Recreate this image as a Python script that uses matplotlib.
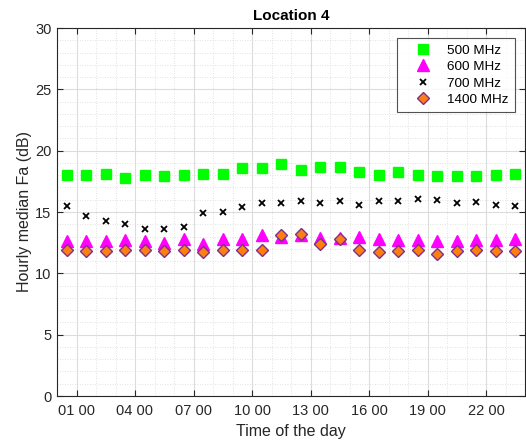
import numpy as np
import matplotlib.pyplot as plt
from matplotlib.ticker import MultipleLocator, FixedLocator

plt.rcParams['font.family'] = ['Liberation Sans', 'DejaVu Sans']

# hourly medians, one value per hour of the day (plotted at the half hour)
hours = np.arange(24) + 0.5
fa_500 = [18.0, 18.0, 18.1, 17.8, 18.0, 17.9, 18.0, 18.1, 18.1, 18.6, 18.6, 18.9,
          18.4, 18.7, 18.7, 18.3, 18.0, 18.3, 18.0, 17.9, 17.9, 17.9, 18.0, 18.1]
fa_600 = [12.6, 12.6, 12.6, 12.7, 12.6, 12.5, 12.8, 12.4, 12.8, 12.8, 13.1, 13.0,
          13.1, 12.9, 12.9, 13.0, 12.8, 12.7, 12.7, 12.6, 12.6, 12.7, 12.7, 12.8]
fa_700 = [15.5, 14.7, 14.3, 14.0, 13.6, 13.6, 13.8, 14.9, 15.0, 15.4, 15.7, 15.7,
          15.9, 15.7, 15.9, 15.6, 15.9, 15.9, 16.1, 16.0, 15.7, 15.8, 15.6, 15.5]
fa_1400 = [11.9, 11.8, 11.8, 11.9, 11.9, 11.8, 11.9, 11.7, 11.9, 11.9, 11.9, 13.1,
           13.2, 12.4, 12.8, 11.9, 11.7, 11.8, 11.9, 11.6, 11.8, 11.9, 11.8, 11.8]

tick_hours = [1, 4, 7, 10, 13, 16, 19, 22]
tick_labels = ['01 00', '04 00', '07 00', '10 00', '13 00', '16 00', '19 00', '22 00']

fig = plt.figure(figsize=(5.26, 4.46), dpi=100)
ax = fig.add_axes([57 / 526, 50 / 446, 468 / 526, 368 / 446])

ax.plot(hours, fa_500, 's', color='#00ff00', markersize=7.5, label='500 MHz')
ax.plot(hours, fa_600, '^', color='#ff00ff', markersize=8.5, label='600 MHz')
ax.plot(hours, fa_700, 'x', color='black', markersize=5, markeredgewidth=1.3,
        label='700 MHz')
ax.plot(hours, fa_1400, 'D', markerfacecolor='#ff7f0e', markeredgecolor='#7e2f8e',
        markersize=6.3, markeredgewidth=1.0, label='1400 MHz')

ax.set_xlim(0, 24)
ax.set_ylim(0, 30)
ax.xaxis.set_major_locator(FixedLocator(tick_hours))
ax.set_xticklabels(tick_labels)
ax.xaxis.set_minor_locator(MultipleLocator(1))
ax.yaxis.set_major_locator(MultipleLocator(5))
ax.yaxis.set_minor_locator(MultipleLocator(1))

ax.grid(which='major', color='#dcdcdc', linewidth=0.8)
ax.grid(which='minor', color='#d8d8d8', linestyle=(0, (1, 2)), linewidth=0.6)
ax.set_axisbelow(True)
ax.tick_params(which='both', direction='in', top=True, right=True, labelsize=10.5,
               colors='#262626')
ax.tick_params(axis='x', pad=6)
ax.tick_params(axis='y', pad=4)
ax.tick_params(which='major', length=4)
ax.tick_params(which='minor', length=0)
for sp in ax.spines.values():
    sp.set_color('#262626')
    sp.set_linewidth(0.8)

ax.set_xlabel('Time of the day', fontsize=11.5, color='#262626')
ax.set_ylabel('Hourly median Fa (dB)', fontsize=11.5, color='#262626', labelpad=2)
ax.set_title('Location 4', fontsize=11, fontweight='bold', pad=6)

leg = ax.legend(loc='upper right', fontsize=9.7, frameon=True, fancybox=False,
                edgecolor='#262626', borderaxespad=0.75, handlelength=3.0,
                handletextpad=0.3, labelspacing=0.3, borderpad=0.45)
leg.get_frame().set_linewidth(0.8)

fig.savefig('out.png', dpi=100)
